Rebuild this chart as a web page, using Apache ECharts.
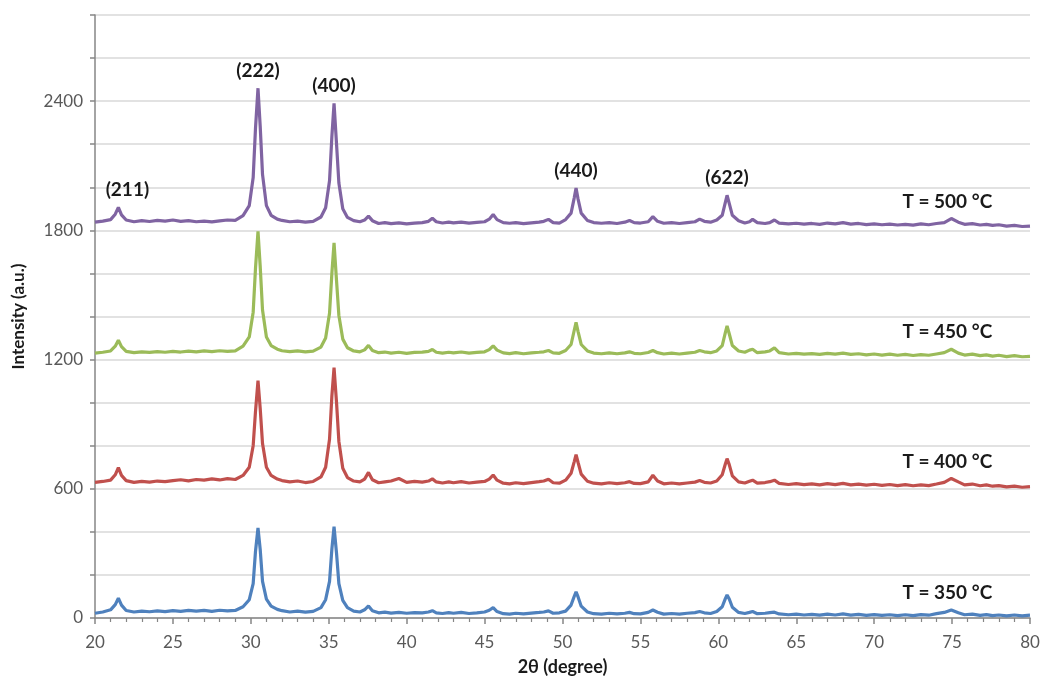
<!DOCTYPE html>
<html>
<head>
<meta charset="utf-8">
<script src="https://cdn.jsdelivr.net/npm/echarts@6/dist/echarts.min.js"></script>
<style>
html,body{margin:0;padding:0;background:#fff;}
#chart{width:1041px;height:677px;}
</style>
</head>
<body>
<div id="chart"></div>
<script>
// 2θ positions (degree), shared by all four patterns
const twoTheta = [
  20, 20.5, 21, 21.3, 21.5, 21.7, 22, 22.5, 23, 23.5,
  24, 24.5, 25, 25.5, 26, 26.5, 27, 27.5, 28, 28.5,
  29, 29.5, 29.9, 30.15, 30.3, 30.46, 30.6, 30.75, 31, 31.3,
  31.7, 32, 32.5, 33, 33.5, 34, 34.5, 34.8, 35.05, 35.2,
  35.34, 35.5, 35.65, 35.9, 36.2, 36.6, 37, 37.3, 37.55, 37.8,
  38.2, 38.6, 39, 39.5, 40, 40.5, 41, 41.4, 41.65, 41.9,
  42.3, 42.7, 43, 43.5, 44, 44.5, 45, 45.3, 45.55, 45.8,
  46.2, 46.6, 47, 47.5, 48, 48.5, 48.8, 49.1, 49.4, 49.8,
  50.2, 50.55, 50.75, 50.87, 51.0, 51.2, 51.6, 52, 52.5, 53,
  53.5, 54, 54.3, 54.6, 55, 55.5, 55.8, 56.1, 56.5, 57,
  57.5, 58, 58.5, 58.8, 59.1, 59.5, 59.9, 60.25, 60.45, 60.56,
  60.7, 60.9, 61.3, 61.7, 62, 62.2, 62.5, 63, 63.3, 63.6,
  63.9, 64.5, 65, 65.5, 66, 66.5, 67, 67.5, 68, 68.5,
  69, 69.5, 70, 70.5, 71, 71.5, 72, 72.5, 73, 73.5,
  74, 74.5, 74.95, 75.4, 75.8, 76.3, 76.8, 77.2, 77.6, 78,
  78.5, 79, 79.5, 80
];

const int500 = [
  1838, 1843, 1850, 1875, 1907, 1872, 1848, 1840, 1845, 1841,
  1846, 1843, 1848, 1842, 1845, 1840, 1843, 1839, 1844, 1848,
  1846, 1868, 1915, 2045, 2275, 2460, 2285, 2060, 1915, 1870,
  1852, 1846, 1840, 1843, 1838, 1842, 1862, 1905, 2030, 2235,
  2390, 2200, 2020, 1900, 1860, 1845, 1840, 1848, 1866, 1845,
  1832, 1836, 1831, 1835, 1830, 1834, 1836, 1842, 1856, 1840,
  1834, 1838, 1835, 1838, 1834, 1837, 1840, 1852, 1874, 1850,
  1836, 1833, 1836, 1831, 1835, 1838, 1842, 1851, 1836, 1834,
  1850, 1880, 1950, 1997, 1945, 1880, 1846, 1836, 1833, 1836,
  1832, 1838, 1846, 1836, 1834, 1840, 1864, 1842, 1833, 1836,
  1832, 1836, 1840, 1852, 1842, 1838, 1848, 1870, 1930, 1963,
  1925, 1870, 1845, 1834, 1840, 1851, 1836, 1832, 1836, 1848,
  1834, 1830, 1833, 1829, 1832, 1828, 1834, 1830, 1836, 1829,
  1832, 1827, 1830, 1826, 1829, 1825, 1828, 1824, 1830, 1826,
  1832, 1836, 1855, 1838, 1828, 1831, 1825, 1828, 1823, 1826,
  1820, 1823, 1818, 1820
];

const int450 = [
  1230, 1234, 1240, 1262, 1290, 1260, 1238, 1232, 1236, 1233,
  1237, 1234, 1238, 1235, 1239, 1236, 1240, 1237, 1241, 1238,
  1240, 1262, 1305, 1420, 1625, 1795, 1635, 1430, 1305, 1265,
  1248, 1241, 1237, 1240, 1236, 1239, 1258, 1300, 1415, 1600,
  1742, 1565, 1405, 1295, 1255, 1240, 1236, 1245, 1266, 1242,
  1232, 1235, 1230, 1234, 1229, 1233, 1235, 1238, 1247, 1234,
  1230, 1234, 1231, 1235, 1230, 1233, 1236, 1246, 1264, 1244,
  1231, 1228, 1232, 1227, 1231, 1234, 1236, 1242, 1231, 1229,
  1242, 1270, 1335, 1373, 1330, 1270, 1240, 1230, 1227, 1231,
  1227, 1231, 1236, 1229, 1227, 1233, 1242, 1232, 1226, 1230,
  1226, 1230, 1234, 1242, 1236, 1232, 1240, 1265, 1325, 1356,
  1320, 1265, 1240, 1234, 1244, 1248, 1232, 1236, 1240, 1254,
  1232, 1226, 1229, 1225, 1228, 1224, 1229, 1225, 1230, 1224,
  1227, 1222, 1226, 1221, 1225, 1220, 1224, 1219, 1223, 1220,
  1226, 1232, 1248, 1230, 1221, 1225, 1218, 1222, 1216, 1220,
  1214, 1218, 1213, 1215
];

const int400 = [
  630, 634, 640, 665, 698, 662, 638, 630, 634, 631,
  636, 633, 638, 642, 637, 643, 640, 646, 641, 647,
  643, 662, 700, 800, 960, 1102, 975, 810, 700, 662,
  645, 638, 632, 636, 629, 634, 655, 700, 830, 1030,
  1163, 1000, 820, 695, 652, 636, 632, 645, 676, 642,
  628, 632, 636, 648, 630, 634, 631, 636, 646, 632,
  627, 632, 628, 633, 627, 631, 634, 645, 664, 640,
  626, 623, 628, 624, 629, 633, 636, 644, 628, 626,
  640, 672, 725, 758, 722, 668, 635, 626, 623, 628,
  624, 628, 633, 625, 624, 632, 663, 636, 623, 627,
  623, 627, 631, 638, 630, 627, 636, 665, 715, 740,
  712, 660, 632, 627, 635, 640, 626, 629, 633, 640,
  625, 620, 624, 619, 623, 618, 624, 619, 625, 618,
  622, 617, 621, 616, 620, 615, 619, 614, 618, 615,
  622, 630, 648, 632, 618, 622, 614, 618, 612, 615,
  609, 612, 607, 610
];

const int350 = [
  22, 28, 38, 62, 92, 60, 35, 28, 32, 29,
  33, 30, 34, 31, 35, 32, 35, 31, 36, 33,
  35, 52, 85, 160, 310, 418, 320, 170, 88, 55,
  40, 34, 28, 32, 27, 31, 48, 85, 170, 320,
  424, 300, 160, 82, 48, 32, 28, 38, 56, 34,
  24, 27, 23, 26, 22, 25, 24, 28, 34, 24,
  21, 25, 22, 26, 21, 24, 28, 36, 48, 30,
  20, 18, 22, 19, 23, 26, 28, 33, 22, 24,
  32, 60, 100, 122, 98, 55, 28, 20, 18, 22,
  19, 22, 26, 20, 19, 26, 37, 27, 18, 21,
  18, 22, 25, 30, 24, 21, 30, 52, 90, 107,
  88, 50, 26, 21, 26, 30, 20, 22, 25, 27,
  19, 15, 18, 14, 17, 13, 18, 14, 19, 13,
  17, 12, 16, 12, 15, 11, 15, 11, 16, 13,
  20, 26, 37, 24, 15, 18, 12, 16, 11, 14,
  10, 14, 10, 13
];

const seriesNames = ['T = 350 °C', 'T = 400 °C', 'T = 450 °C', 'T = 500 °C'];
const seriesColors = ['#4F81BD', '#C0504D', '#9BBB59', '#8064A2'];
const peakNames = ['(211)', '(222)', '(400)', '(440)', '(622)'];
const peakAngles = [21.5, 30.46, 35.34, 50.87, 60.56];
const yLabelValues = [0, 600, 1200, 1800, 2400];
const tempLabelAngle = 74.95;

const FONT = 'Lato, "Open Sans", sans-serif';
const allY = [int350, int400, int450, int500];

function pairs(arr) { return twoTheta.map((x, i) => [x, arr[i]]); }
function valAt(arr, x) { return arr[twoTheta.indexOf(x)]; }

const series = allY.map((arr, si) => {
  const mpData = [{
    coord: [tempLabelAngle, valAt(arr, tempLabelAngle)],
    label: { formatter: seriesNames[si], offset: [-4, -17] }
  }];
  if (si === 3) {
    peakNames.forEach((n, k) => {
      mpData.push({
        coord: [peakAngles[k], valAt(arr, peakAngles[k])],
        label: { formatter: n, offset: [k === 0 ? 9 : 0, -17] }
      });
    });
  }
  return {
    name: seriesNames[si],
    type: 'line',
    data: pairs(arr),
    showSymbol: false,
    symbol: 'none',
    lineStyle: { color: seriesColors[si], width: 3.2 },
    itemStyle: { color: seriesColors[si] },
    z: 2 + si,
    markPoint: {
      symbol: 'circle',
      symbolSize: 2,
      itemStyle: { color: 'rgba(0,0,0,0)', borderWidth: 0 },
      silent: true,
      label: {
        show: true,
        position: 'inside',
        color: '#1a1a1a',
        fontFamily: FONT,
        fontWeight: 'bold',
        fontSize: 19
      },
      data: mpData
    }
  };
});

const chart = echarts.init(document.getElementById('chart'), null, { renderer: 'canvas' });
chart.setOption({
  animation: false,
  backgroundColor: '#ffffff',
  grid: { left: 95, right: 11, top: 15, bottom: 59, containLabel: false, outerBoundsMode: 'none' },
  xAxis: {
    type: 'value',
    min: 20, max: 80, interval: 5,
    name: '2θ (degree)',
    nameLocation: 'middle',
    nameGap: 40,
    nameTextStyle: { fontFamily: FONT, fontWeight: 'bold', fontSize: 18, color: '#1a1a1a' },
    axisLine: { show: true, lineStyle: { color: '#868686', width: 1.5 } },
    axisTick: { show: true, length: 6, lineStyle: { color: '#868686', width: 1.5 } },
    minorTick: { show: true, splitNumber: 5, length: 4, lineStyle: { color: '#868686', width: 1.2 } },
    splitLine: { show: false },
    axisLabel: { fontFamily: FONT, fontSize: 17, color: '#595959', margin: 16 }
  },
  yAxis: {
    type: 'value',
    min: 0, max: 2800, interval: 200,
    name: 'Intensity (a.u.)',
    nameLocation: 'middle',
    nameGap: 68,
    nameTextStyle: { fontFamily: FONT, fontWeight: 'bold', fontSize: 17, color: '#1a1a1a' },
    axisLine: { show: true, lineStyle: { color: '#868686', width: 1.5 } },
    axisTick: { show: true, length: 5, lineStyle: { color: '#868686', width: 1.5 } },
    splitLine: { show: true, lineStyle: { color: '#D9D9D9', width: 1.5 } },
    axisLabel: {
      fontFamily: FONT, fontSize: 17, color: '#595959', margin: 12,
      formatter: v => (yLabelValues.indexOf(v) >= 0 ? String(v) : '')
    }
  },
  series: series
});
</script>
</body>
</html>
